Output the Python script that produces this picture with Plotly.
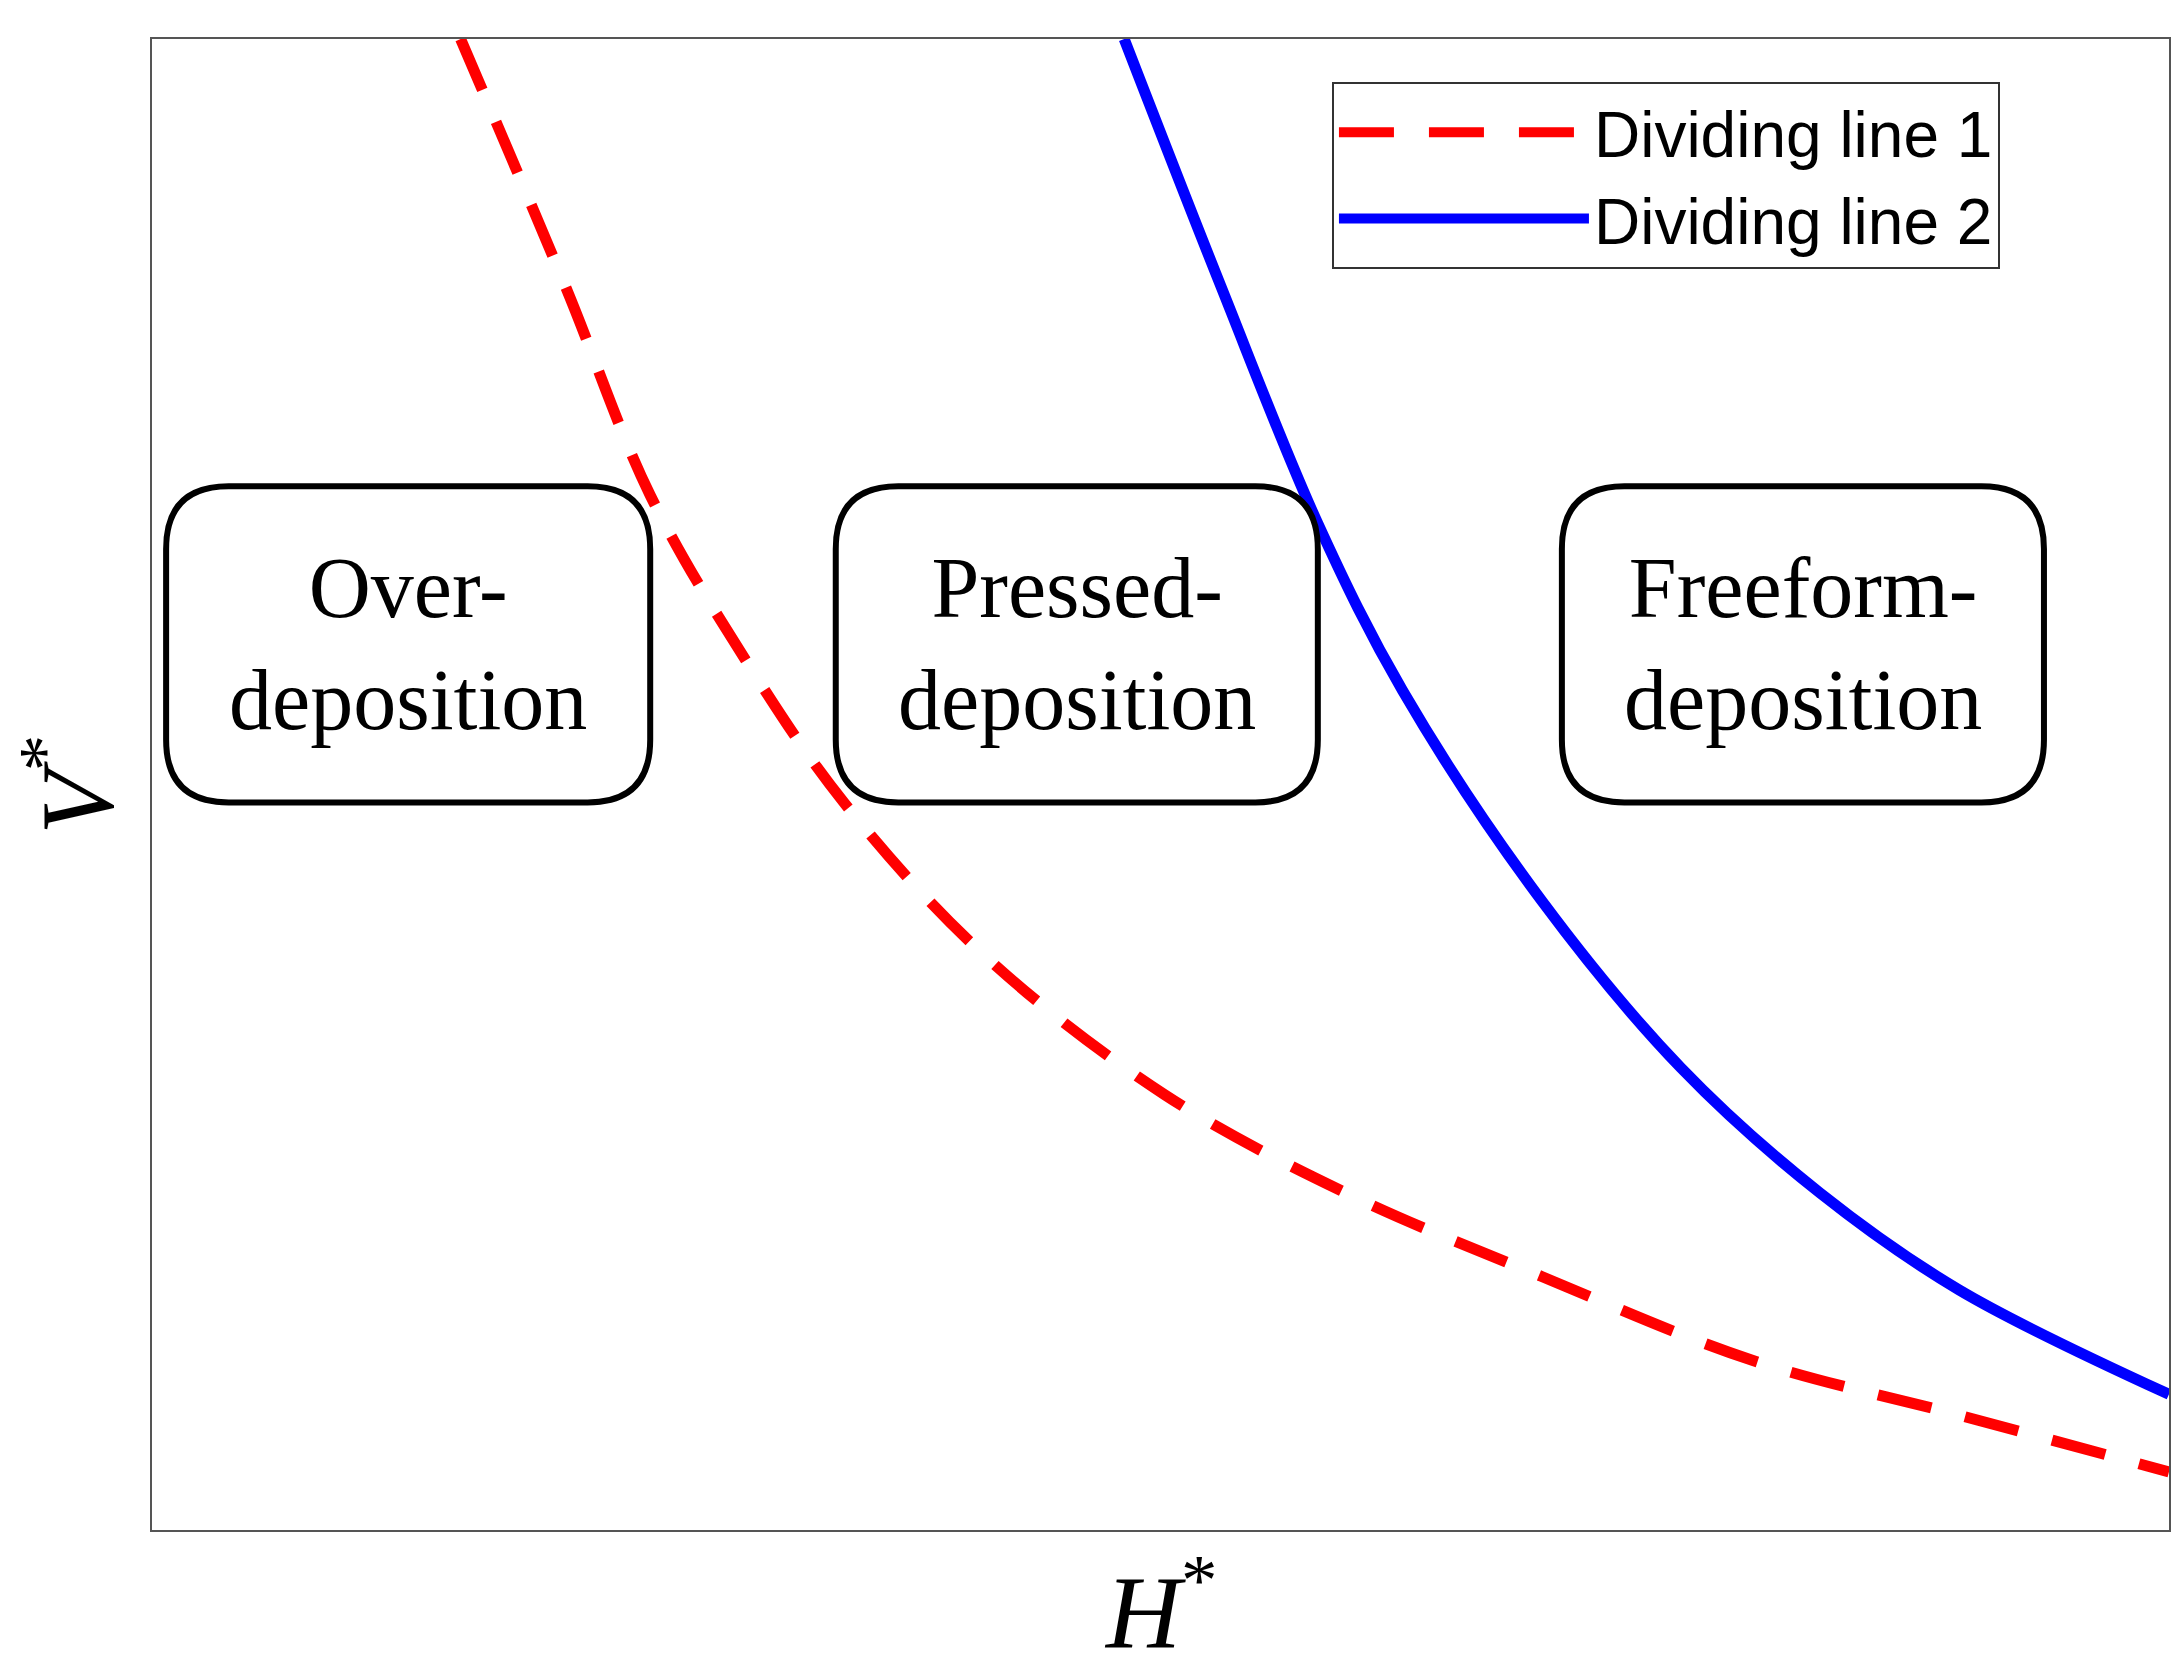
import plotly.graph_objects as go

# dividing line 1 (red dashed), normalised axes 0..1
line1_x = [0.153, 0.205, 0.247, 0.295, 0.343, 0.413, 0.502, 0.592, 0.689, 0.793, 0.896, 1.0]
line1_y = [1.0, 0.834, 0.694, 0.582, 0.488, 0.385, 0.292, 0.226, 0.170, 0.114, 0.077, 0.039]

# dividing line 2 (blue solid)
line2_x = [0.482, 0.530, 0.578, 0.620, 0.689, 0.758, 0.827, 0.896, 1.0]
line2_y = [1.0, 0.834, 0.675, 0.563, 0.422, 0.310, 0.226, 0.161, 0.091]

region_labels = ["Over-<br>deposition", "Pressed-<br>deposition", "Freeform-<br>deposition"]
region_x0 = [0.007, 0.339, 0.699]
region_x1 = [0.247, 0.578, 0.938]
box_y0, box_y1 = 0.488, 0.700


def rounded_box(x0, x1, y0, y1, rx=0.031, ry=0.042):
    return (f"M {x0+rx},{y0} L {x1-rx},{y0} Q {x1},{y0} {x1},{y0+ry} "
            f"L {x1},{y1-ry} Q {x1},{y1} {x1-rx},{y1} L {x0+rx},{y1} "
            f"Q {x0},{y1} {x0},{y1-ry} L {x0},{y0+ry} Q {x0},{y0} {x0+rx},{y0} Z")


fig = go.Figure()
fig.add_trace(go.Scatter(x=line1_x, y=line1_y, mode="lines", name="Dividing line 1",
                         line=dict(color="red", width=11, dash="55px,35px", shape="spline")))
fig.add_trace(go.Scatter(x=line2_x, y=line2_y, mode="lines", name="Dividing line 2",
                         line=dict(color="blue", width=11, shape="spline")))

for lab, a, b in zip(region_labels, region_x0, region_x1):
    fig.add_shape(type="path", path=rounded_box(a, b, box_y0, box_y1),
                  line=dict(color="black", width=6), fillcolor="white", layer="above")
    fig.add_annotation(x=(a + b) / 2, y=(box_y0 + box_y1) / 2, text=lab, showarrow=False,
                       font=dict(family="Liberation Serif", size=86, color="black"))

fig.add_annotation(x=0.5, y=-0.005, xref="paper", yref="paper", yanchor="top", showarrow=False,
                   text="<i>H</i><sup>*</sup>",
                   font=dict(family="Liberation Serif", size=104, color="black"))
fig.add_annotation(x=-0.008, y=0.5, xref="paper", yref="paper", xanchor="right", showarrow=False,
                   textangle=-90, text="<i>V</i><sup>*</sup>",
                   font=dict(family="Liberation Serif", size=104, color="black"))

fig.update_xaxes(range=[0, 1], showticklabels=False, showgrid=False, zeroline=False,
                 showline=True, mirror=True, linecolor="#555", linewidth=2, ticks="")
fig.update_yaxes(range=[0, 1], showticklabels=False, showgrid=False, zeroline=False,
                 showline=True, mirror=True, linecolor="#555", linewidth=2, ticks="")
fig.update_layout(width=2179, height=1673, plot_bgcolor="white", paper_bgcolor="white",
                  margin=dict(l=144, r=18, t=31, b=151),
                  legend=dict(x=0.585, y=0.971, xanchor="left", yanchor="top",
                              bordercolor="#333", borderwidth=2, bgcolor="white",
                              font=dict(family="Liberation Sans", size=64, color="black"),
                              itemwidth=250, tracegroupgap=0))
fig.write_html("out.html")
